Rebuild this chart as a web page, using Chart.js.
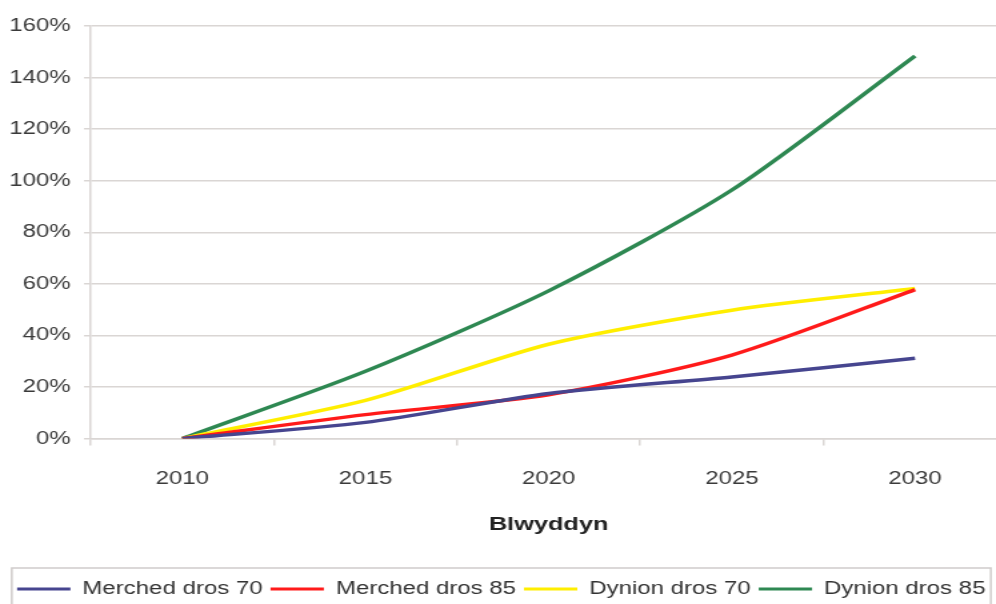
<!DOCTYPE html>
<html>
<head>
<meta charset="utf-8">
<title>Blwyddyn</title>
<script src="https://cdn.jsdelivr.net/npm/chart.js@4.4.1/dist/chart.umd.min.js"></script>
<style>
  html, body { margin: 0; padding: 0; background: #fff; overflow: hidden; }
  /* the source picture is stretched sideways, so draw narrow and stretch */
  #wrap { width: 755px; height: 608px; transform: scaleX(1.3333); transform-origin: 0 0; }
</style>
</head>
<body>
<div id="wrap"><canvas id="c" width="755" height="608"></canvas></div>
<script>
  // data (%)
  const years = ['2010', '2015', '2020', '2025', '2030'];
  const merched70 = [0, 6.3, 17.5, 23.9, 31.2];
  const merched85 = [0, 9.3, 17, 32.4, 57.8];
  const dynion70  = [0, 14.8, 36.6, 49.8, 58.2];
  const dynion85  = [0, 26.1, 57.3, 96.4, 148.4];

  const gridCol = '#dad6d4';
  const textCol = '#3a3a3a';
  const fam = "'Liberation Sans', Arial, sans-serif";

  // box round the legend (bottom edge falls off the page like the original)
  const legendBorder = {
    id: 'legendBorder',
    afterDraw(chart) {
      const lg = chart.legend;
      if (!lg || !lg.legendHitBoxes.length) return;
      const hb = lg.legendHitBoxes;
      const left = Math.min(...hb.map(h => h.left)) - 4;
      const right = Math.max(...hb.map(h => h.left + h.width)) + 4;
      const top = hb[0].top - 12;
      const c = chart.ctx;
      c.save();
      c.strokeStyle = '#d0cccb';
      c.lineWidth = 1.5;
      c.strokeRect(left, top, right - left, chart.height);
      c.restore();
    }
  };

  function series(label, data, color) {
    return {
      label: label,
      data: data,
      borderColor: color,
      backgroundColor: color,
      borderWidth: 3.5,
      pointRadius: 0,
      tension: 0.25,
      fill: false
    };
  }

  new Chart(document.getElementById('c'), {
    type: 'line',
    data: {
      labels: years,
      datasets: [
        series('Merched dros 70', merched70, '#46458f'),
        series('Merched dros 85', merched85, '#ff1a1a'),
        series('Dynion dros 70', dynion70, '#ffee00'),
        series('Dynion dros 85', dynion85, '#2e8852')
      ]
    },
    options: {
      responsive: false,
      animation: false,
      layout: { padding: { left: -3, top: 26, right: 0, bottom: 0 } },
      plugins: {
        tooltip: { enabled: false },
        legend: {
          position: 'bottom',
          labels: {
            color: '#333',
            font: { family: fam, size: 18 },
            boxWidth: 40,
            boxHeight: 3,
            padding: 6,
            generateLabels(chart) {
              const items = Chart.defaults.plugins.legend.labels.generateLabels(chart);
              return items.map(it => Object.assign(it, { lineWidth: 0, fillStyle: it.strokeStyle }));
            }
          }
        }
      },
      scales: {
        x: {
          type: 'category',
          offset: true,
          grid: { offset: true, drawOnChartArea: false, tickLength: 7, color: gridCol, lineWidth: 1.5 },
          border: { display: true, color: gridCol, width: 1.5 },
          ticks: { color: textCol, font: { family: fam, size: 18 }, padding: 23, maxRotation: 0 },
          title: {
            display: true,
            text: 'Blwyddyn',
            color: '#222',
            font: { family: fam, size: 19, weight: 'bold' },
            padding: { top: 0, bottom: 38 }
          }
        },
        y: {
          min: 0,
          max: 160,
          grid: { color: gridCol, lineWidth: 1.5, tickLength: 5 },
          border: { display: true, color: gridCol, width: 1.5 },
          ticks: {
            stepSize: 20,
            padding: 10,
            color: textCol,
            font: { family: fam, size: 18 },
            callback: v => v + '%'
          }
        }
      }
    },
    plugins: [legendBorder]
  });
</script>
</body>
</html>
